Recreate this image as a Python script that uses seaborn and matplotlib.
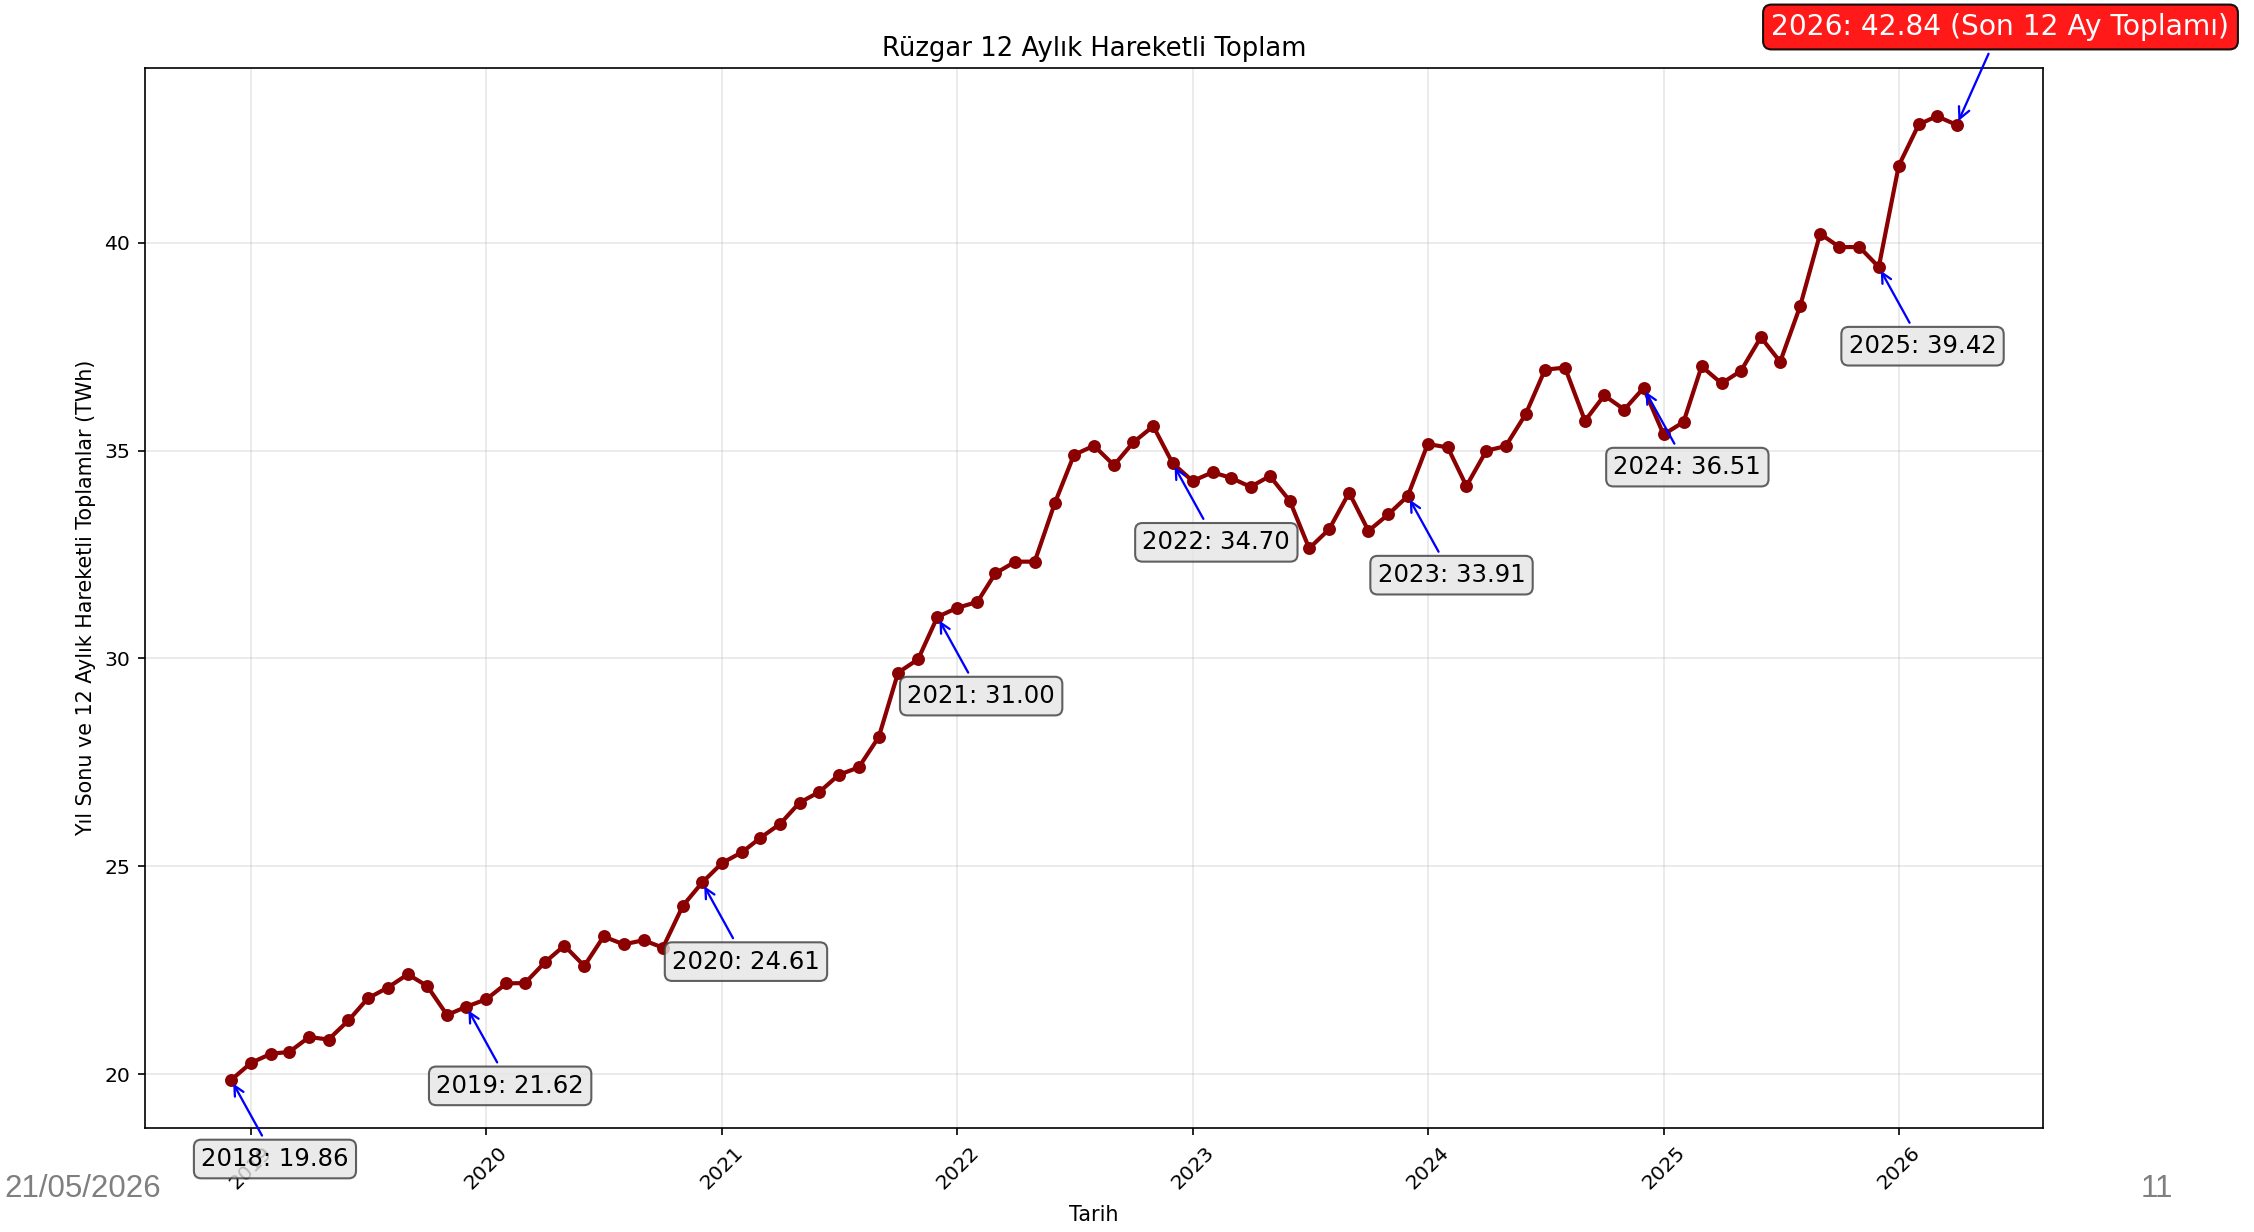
import pandas as pd
import numpy as np
import matplotlib
matplotlib.use("Agg")
import matplotlib.pyplot as plt
import matplotlib.dates as mdates
import seaborn as sns

DPI = 150
plt.rcParams['font.size'] = 9.8
plt.rcParams['axes.titlesize'] = 12.4
plt.rcParams['axes.labelsize'] = 9.9
plt.rcParams['xtick.labelsize'] = 9.8
plt.rcParams['ytick.labelsize'] = 9.8

# Rüzgar üretimi, 12 aylık hareketli toplam (TWh), Aralık 2018'den itibaren aylık
START_MONTH = "2018-12-01"
ruzgar_2018 = [19.86]
ruzgar_2019 = [20.27, 20.49, 20.53, 20.89, 20.83, 21.29, 21.82, 22.08, 22.40, 22.12, 21.42, 21.62]
ruzgar_2020 = [21.80, 22.18, 22.19, 22.69, 23.09, 22.60, 23.31, 23.12, 23.22, 23.04, 24.05, 24.61]
ruzgar_2021 = [25.08, 25.34, 25.68, 26.02, 26.53, 26.79, 27.20, 27.38, 28.11, 29.66, 29.98, 31.00]
ruzgar_2022 = [31.22, 31.36, 32.05, 32.33, 32.33, 33.73, 34.90, 35.12, 34.65, 35.20, 35.59, 34.70]
ruzgar_2023 = [34.27, 34.48, 34.35, 34.13, 34.39, 33.79, 32.65, 33.11, 33.99, 33.07, 33.47, 33.91]
ruzgar_2024 = [35.16, 35.08, 34.15, 35.00, 35.11, 35.88, 36.95, 37.00, 35.72, 36.33, 35.99, 36.51]
ruzgar_2025 = [35.39, 35.69, 37.03, 36.62, 36.92, 37.73, 37.14, 38.48, 40.22, 39.90, 39.90, 39.42]
ruzgar_2026 = [41.86, 42.85, 43.05, 42.84]

FOOTER_DATE = "21/05/2026"
PAGE_NO = "11"

rolling_values = (ruzgar_2018 + ruzgar_2019 + ruzgar_2020 + ruzgar_2021 + ruzgar_2022
                  + ruzgar_2023 + ruzgar_2024 + ruzgar_2025 + ruzgar_2026)
dates = pd.date_range(START_MONTH, periods=len(rolling_values), freq="MS")
df = pd.DataFrame({"Tarih": dates, "Toplam": rolling_values})
year_end = df[df["Tarih"].dt.month == 12]
last = df.iloc[-1]

fig = plt.figure(figsize=(2254 / DPI, 1232 / DPI), dpi=DPI)
ax = fig.add_axes([0.0643, 0.0844, 0.9064 - 0.0643, 0.9448 - 0.0844])

sns.lineplot(data=df, x="Tarih", y="Toplam", ax=ax, color='#8b0000',
             linewidth=2, marker='o', markersize=5.2,
             markeredgecolor='#8b0000', markeredgewidth=1)

# yıl sonu değerleri
grey_box = dict(boxstyle='round,pad=0.3', facecolor='#e5e5e5',
                edgecolor='#3a3a3a', alpha=0.8)
for _, row in year_end.iterrows():
    ax.annotate(f"{row['Tarih'].year}: {row['Toplam']:.2f}",
                xy=(row['Tarih'], row['Toplam']), xytext=(21, -38),
                textcoords='offset points', ha='center', va='center',
                fontsize=11.7, bbox=grey_box, annotation_clip=False,
                arrowprops=dict(arrowstyle='->', color='blue', lw=1.1))

# son 12 ay toplamı
ax.annotate(f"{last['Tarih'].year}: {last['Toplam']:.2f} (Son 12 Ay Toplamı)",
            xy=(last['Tarih'], last['Toplam']), xytext=(21, 47),
            textcoords='offset points', ha='center', va='center',
            fontsize=13.5, color='white', annotation_clip=False,
            bbox=dict(boxstyle='round,pad=0.3', facecolor='red',
                      edgecolor='black', alpha=0.9),
            arrowprops=dict(arrowstyle='->', color='blue', lw=1.1))

ax.xaxis.set_major_locator(mdates.YearLocator())
ax.xaxis.set_major_formatter(mdates.DateFormatter('%Y'))
plt.setp(ax.get_xticklabels(), rotation=45)

ax.set_title("Rüzgar 12 Aylık Hareketli Toplam")
ax.set_xlabel("Tarih", labelpad=6)
ax.set_ylabel("Yıl Sonu ve 12 Aylık Hareketli Toplamlar (TWh)")
ax.grid(True, alpha=0.3)

fig.text(0.002, 0.035, FOOTER_DATE, color='#7f7f7f', fontsize=15,
         family='Liberation Sans', ha='left', va='center')
fig.text(0.964, 0.035, PAGE_NO, color='#7f7f7f', fontsize=15,
         family='Liberation Sans', ha='right', va='center')

fig.savefig("out.png", dpi=DPI)
plt.close(fig)
